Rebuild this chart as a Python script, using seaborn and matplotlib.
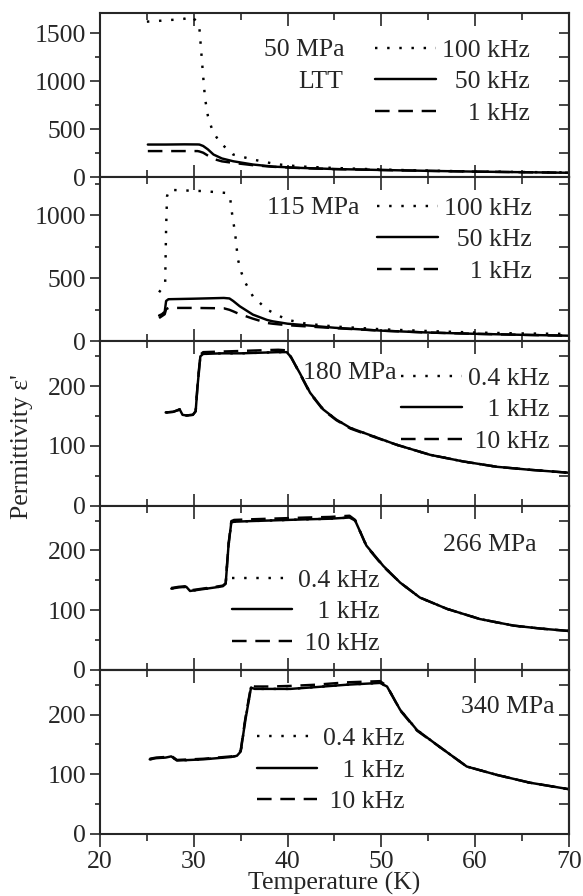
import matplotlib
matplotlib.use('Agg')
import matplotlib.pyplot as plt
import seaborn as sns
from matplotlib.ticker import MultipleLocator

# ---- 50 MPa (LTT) ----
t50_100k = [25.0, 26.0, 27.0, 28.0, 29.0, 29.8, 30.3, 30.6, 30.8, 31.0, 31.2, 31.5, 32.0, 32.8,
            34.2, 36.3, 38.8, 41.3, 45.0, 50.0, 55.0, 60.0, 65.0, 70.0]
eps50_100k = [1620, 1625, 1635, 1640, 1650, 1675, 1620, 1550, 1300, 1050, 820, 640, 480, 360,
              236, 184, 135, 112, 96, 80, 68, 60, 54, 49]
t50 = [25.1, 27.0, 29.0, 30.4, 30.6, 31.0, 31.5, 32.1, 33.0, 34.2, 36.3, 38.5, 41.3, 45.0,
       50.0, 55.0, 60.0, 65.0, 70.0]
eps50_50k = [340, 340, 342, 341, 340, 325, 290, 236, 195, 166, 132, 110, 97, 85,
             75, 66, 58, 52, 46]
eps50_1k = [272, 272, 272, 272, 268, 255, 225, 190, 165, 149, 125, 108, 95, 84,
            75, 66, 58, 52, 46]

# ---- 115 MPa ----
t115_100k = [26.3, 26.7, 26.95, 27.05, 27.15, 27.4, 29.0, 31.0, 33.5, 33.9, 34.1, 34.4, 34.7,
             35.1, 35.5, 36.3, 37.8, 39.9, 42.0, 45.0, 50.0, 55.0, 60.0, 65.0, 70.0]
eps115_100k = [389, 430, 470, 900, 1150, 1200, 1195, 1190, 1175, 1120, 1000, 860, 650,
               540, 464, 357, 252, 172, 140, 118, 96, 82, 70, 63, 59]
t115 = [26.3, 26.6, 26.9, 27.05, 27.3, 30.0, 33.2, 33.8, 34.2, 34.9, 35.6, 36.3, 37.8, 38.4,
        40.0, 41.3, 45.0, 50.0, 55.0, 60.0, 65.0, 70.0]
eps115_50k = [205, 215, 235, 320, 334, 338, 344, 340, 320, 278, 245, 212, 170, 159,
              140, 132, 108, 85, 70, 60, 52, 45]
eps115_1k = [185, 200, 215, 255, 265, 265, 262, 250, 238, 215, 198, 180, 146, 140,
             128, 122, 105, 85, 70, 60, 52, 45]

# ---- 180 MPa ----
t180 = [27.0, 27.8, 28.5, 28.8, 29.2, 29.9, 30.2, 30.4, 30.7, 31.0, 33.0, 35.0, 37.0, 39.0,
        39.9, 40.3, 41.3, 42.4, 43.8, 45.2, 46.7, 48.1, 51.6, 55.2, 58.7, 62.3, 65.8, 70.0]
eps180_04k = [156, 157, 161, 152, 151, 152, 158, 200, 250, 254, 255, 255, 256, 257,
              257, 250, 222, 189, 161, 144, 130, 122, 102, 85, 74, 65, 60, 55]
eps180_1k = [156, 157, 161, 152, 151, 152, 158, 200, 250, 254, 255, 255, 256, 257,
             257, 250, 222, 189, 161, 144, 130, 122, 102, 85, 74, 65, 60, 55]
eps180_10k = [156, 157, 161, 152, 151, 152, 158, 202, 253, 257, 258, 259, 260, 261,
              260, 251, 221, 188, 160, 143, 129, 121, 102, 85, 74, 65, 60, 55]

# ---- 266 MPa ----
t266 = [27.6, 28.4, 29.2, 29.6, 30.5, 31.4, 32.3, 33.1, 33.4, 33.7, 34.0, 34.3, 36.0, 38.0,
        40.0, 42.0, 44.5, 46.6, 47.2, 48.4, 50.2, 52.0, 54.1, 57.0, 60.5, 64.1, 67.0, 70.0]
eps266_04k = [136, 138, 139, 132, 134, 136, 138, 140, 144, 208, 247, 248, 249, 250,
              251, 252, 253, 255, 250, 208, 174, 146, 121, 102, 85, 74, 69, 65]
eps266_1k = [136, 138, 139, 132, 134, 136, 138, 140, 144, 208, 247, 248, 249, 250,
             251, 252, 253, 255, 250, 208, 174, 146, 121, 102, 85, 74, 69, 65]
eps266_10k = [137, 139, 140, 133, 135, 137, 139, 141, 145, 210, 249, 251, 252, 253,
              254, 255, 256, 258, 251, 207, 173, 146, 121, 102, 85, 74, 69, 65]

# ---- 340 MPa ----
t340 = [25.3, 26.0, 27.0, 27.6, 28.2, 29.6, 31.0, 32.5, 34.0, 34.6, 35.0, 35.5, 36.1, 36.5,
        38.0, 40.3, 43.0, 46.3, 49.85, 50.6, 52.0, 53.8, 56.2, 59.1, 62.3, 65.8, 70.0]
eps340_04k = [125, 127, 128, 130, 123, 124, 125, 127, 129, 131, 138, 191, 245, 243,
              243, 243, 246, 250, 253, 247, 208, 174, 146, 113, 99, 86, 75]
eps340_1k = [125, 127, 128, 130, 123, 124, 125, 127, 129, 131, 138, 191, 245, 243,
             243, 243, 246, 250, 253, 247, 208, 174, 146, 113, 99, 86, 75]
eps340_10k = [126, 128, 129, 131, 124, 125, 126, 128, 130, 132, 140, 194, 248, 247,
              247, 248, 250, 254, 256, 248, 207, 173, 146, 113, 99, 86, 75]

DOT = (0, (1.0, 4.0))
DASH = (0, (6.0, 3.6))
FS = 18.5
FSP = '\u2007'   # figure space (digit width)
PSP = '\u2008'   # punctuation space

sns.set_style('ticks')
plt.rcParams['font.family'] = ['Liberation Serif', 'DejaVu Serif']
plt.rcParams['font.size'] = FS
plt.rcParams['axes.linewidth'] = 1.5

panels = [
    dict(series=[(t50_100k, eps50_100k, DOT, '100 kHz'),
                 (t50, eps50_50k, '-', FSP + '50 kHz'),
                 (t50, eps50_1k, DASH, FSP + FSP + '1 kHz')],
         ylim=1710, major=500, minor=250,
         texts=[('50 MPa', 0.522, 0.775), ('LTT', 0.518, 0.581)],
         leg=(0.917, 0.581)),
    dict(series=[(t115_100k, eps115_100k, DOT, '100 kHz'),
                 (t115, eps115_50k, '-', FSP + '50 kHz'),
                 (t115, eps115_1k, DASH, FSP + FSP + '1 kHz')],
         ylim=1300, major=500, minor=250,
         texts=[('115 MPa', 0.554, 0.815)],
         leg=(0.921, 0.62)),
    dict(series=[(t180, eps180_04k, DOT, '0.4 kHz'),
                 (t180, eps180_1k, '-', FSP + PSP + '1 kHz'),
                 (t180, eps180_10k, DASH, PSP + '10 kHz')],
         ylim=275, major=100, minor=50,
         texts=[('180 MPa', 0.633, 0.81)],
         leg=(0.959, 0.584)),
    dict(series=[(t266, eps266_04k, DOT, '0.4 kHz'),
                 (t266, eps266_1k, '-', FSP + PSP + '1 kHz'),
                 (t266, eps266_10k, DASH, PSP + '10 kHz')],
         ylim=275, major=100, minor=50,
         texts=[('266 MPa', 0.931, 0.76)],
         leg=(0.597, 0.352)),
    dict(series=[(t340, eps340_04k, DOT, '0.4 kHz'),
                 (t340, eps340_1k, '-', FSP + PSP + '1 kHz'),
                 (t340, eps340_10k, DASH, PSP + '10 kHz')],
         ylim=275, major=100, minor=50,
         texts=[('340 MPa', 0.970, 0.774)],
         leg=(0.650, 0.389)),
]

fig, axes = plt.subplots(5, 1, figsize=(5.83, 8.96), dpi=100, sharex=True)
fig.subplots_adjust(left=0.1715, right=0.976, top=0.9855, bottom=0.0692, hspace=0)

for i, (ax, p) in enumerate(zip(axes, panels)):
    for t, e, ls, lab in p['series']:
        sns.lineplot(x=t, y=e, ax=ax, color='black', linewidth=1.75, linestyle=ls,
                     label=lab, estimator=None, sort=False)
    ax.set_xlim(20, 70)
    ax.set_ylim(0, p['ylim'])
    ax.xaxis.set_major_locator(MultipleLocator(10))
    ax.xaxis.set_minor_locator(MultipleLocator(5))
    ax.yaxis.set_major_locator(MultipleLocator(p['major']))
    ax.yaxis.set_minor_locator(MultipleLocator(p['minor']))
    ax.tick_params(axis='y', which='both', direction='out', left=True, right=False,
                   width=1.2, labelsize=FS, pad=3)
    ax.tick_params(axis='y', which='major', length=7)
    ax.tick_params(axis='y', which='minor', length=3.5)
    # right-side ticks point inward
    sec_y = ax.secondary_yaxis('right')
    sec_y.yaxis.set_major_locator(MultipleLocator(p['minor']))
    sec_y.tick_params(axis='y', direction='in', length=7, width=1.2, labelright=False)
    sec_y.spines['right'].set_linewidth(1.5)

    ax.tick_params(axis='x', which='both', direction='in', top=True, bottom=True,
                   width=1.2, labelsize=FS)
    ax.tick_params(axis='x', which='major', length=9)
    ax.tick_params(axis='x', which='minor', length=5)
    if i == len(axes) - 1:
        ax.tick_params(axis='x', which='both', direction='out', top=False)
        sec_x = ax.secondary_xaxis('top')
        sec_x.xaxis.set_major_locator(MultipleLocator(10))
        sec_x.xaxis.set_minor_locator(MultipleLocator(5))
        sec_x.tick_params(axis='x', which='both', direction='in', labeltop=False, width=1.2)
        sec_x.tick_params(axis='x', which='major', length=9)
        sec_x.tick_params(axis='x', which='minor', length=5)

    for s, x, y in p['texts']:
        ax.text(x, y, s, transform=ax.transAxes, ha='right', va='center', fontsize=FS)

    ax.legend(loc='center right', bbox_to_anchor=p['leg'], frameon=False, fontsize=FS,
              handlelength=2.35, handletextpad=0.25, labelspacing=0.33,
              borderpad=0, borderaxespad=0)
    ax.set_ylabel('')
    ax.set_xlabel('')

axes[2].set_ylabel("Permittivity ε'", fontsize=FS)
axes[2].yaxis.set_label_coords(-0.143, 0.36)
axes[-1].set_xlabel('Temperature (K)', fontsize=FS, labelpad=-1)

fig.savefig('out.png', dpi=100)
